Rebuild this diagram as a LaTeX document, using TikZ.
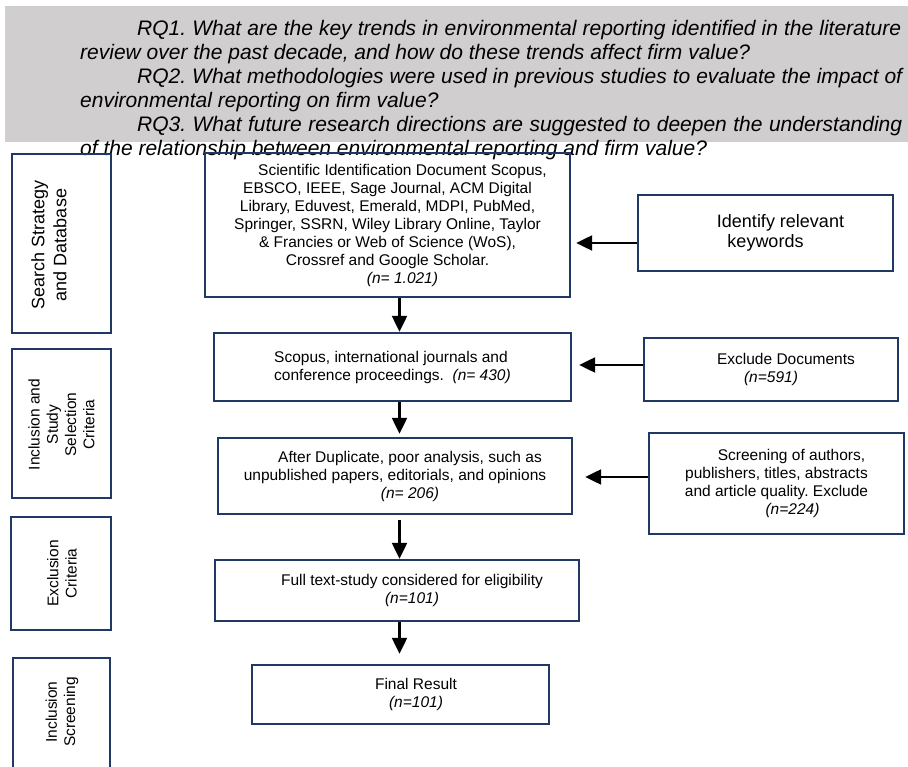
\documentclass[tikz,border=0pt]{standalone}
\usepackage{fontspec}
\setmainfont{Liberation Sans}
\usetikzlibrary{arrows.meta}
\definecolor{navy}{RGB}{32,56,100}
\definecolor{band}{RGB}{208,206,206}
\frenchspacing
\begin{document}
\begin{tikzpicture}[x=1pt,y=-1pt,
  rq/.style={anchor=base west, inner sep=0pt, font=\fontsize{21}{24}\selectfont\itshape},
  box/.style={draw=navy, line width=2.4pt, inner sep=0pt, align=center, font=\fontsize{15.5}{18}\selectfont},
  bigbox/.style={box, font=\fontsize{18}{20.5}\selectfont},
  frame/.style={draw=navy, line width=2.4pt},
  sidetext/.style={rotate=90, inner sep=0pt, align=center, font=\fontsize{15.5}{18.3}\selectfont},
  arr/.style={draw=black, line width=2.3pt, -{Triangle[length=16pt,width=15pt]}}]
\useasboundingbox (0,0) rectangle (908,767);
\fill[band] (5,6) rectangle (908,142);
% research questions
\node[rq] (rq1) at (137,36) {\makebox[764pt][s]{RQ1. What are the key trends in environmental reporting identified in the literature}};
\node[rq] (rq2) at (80,60) {review over the past decade, and how do these trends affect firm value?};
\node[rq] (rq3) at (137,84) {\makebox[765pt][s]{RQ2. What methodologies were used in previous studies to evaluate the impact of}};
\node[rq] (rq4) at (80,108) {environmental reporting on firm value?};
\node[rq] (rq5) at (137,132) {\makebox[765pt][s]{RQ3. What future research directions are suggested to deepen the understanding}};
\node[rq] (rq6) at (80,156) {of the relationship between environmental reporting and firm value?};
% side frames
\node[frame, minimum width=99pt, minimum height=179pt] (L1) at (61.5,243.5) {};
\node[frame, minimum width=99pt, minimum height=149pt] (L2) at (61.5,423.5) {};
\node[frame, minimum width=100pt, minimum height=113pt] (L3) at (61,573.5) {};
\coordinate (L4a) at (13,767);
\coordinate (L4b) at (110,767);
\draw[frame] (L4a) -- (13,658) -- (110,658) -- (L4b);
\node[sidetext, font=\fontsize{18}{22}\selectfont] (L1t) at (49,245) {Search Strategy\\and Database};
\node[sidetext] (L2t) at (61.5,424.5) {Inclusion and\\Study\\Selection\\Criteria};
\node[sidetext] (L3t) at (62,573.5) {Exclusion\\Criteria};
\node[sidetext] (L4t) at (62,712) {Inclusion\\Screening};
% main column
\node[box, minimum width=365pt, minimum height=144pt] (main) at (387.5,225)
  {\hspace*{30pt}Scientific Identification Document Scopus,\\
   EBSCO, IEEE, Sage Journal, ACM Digital\\
   Library, Eduvest, Emerald, MDPI, PubMed,\\
   Springer, SSRN, Wiley Library Online, Taylor\\
   \& Francies or Web of Science (WoS),\\
   Crossref and Google Scholar.\\
   \hspace*{30pt}\textit{(n= 1.021)}};
\node[box, align=left, minimum width=357pt, minimum height=68pt] (box2) at (392.5,367)
  {Scopus, international journals and\\conference proceedings.\ \ \textit{(n= 430)}};
\node[box, minimum width=354pt, minimum height=76pt] (box3) at (395,476)
  {\hspace*{30pt}After Duplicate, poor analysis, such as\\
   unpublished papers, editorials, and opinions\\
   \hspace*{30pt}\textit{(n= 206)}};
\node[box, minimum width=364pt, minimum height=61pt] (box4) at (397,590.5)
  {\hspace*{30pt}Full text-study considered for eligibility\\
   \hspace*{30pt}\textit{(n=101)}};
\node[box, minimum width=297pt, minimum height=59pt] (final) at (400.5,694.5)
  {\hspace*{31pt}Final Result\\\hspace*{31pt}\textit{(n=101)}};
% right column
\node[bigbox, minimum width=255pt, minimum height=76pt] (ident) at (765.5,233)
  {\hspace*{30pt}Identify relevant\\keywords};
\node[box, minimum width=254pt, minimum height=63pt] (excl) at (771,369.5)
  {\hspace*{30pt}Exclude Documents\\\textit{(n=591)}};
\node[box, minimum width=255pt, minimum height=101pt] (screen) at (776.5,483.5)
  {\hspace*{30pt}Screening of authors,\\
   publishers, titles, abstracts\\
   and article quality. Exclude\\
   \hspace*{32pt}\textit{(n=224)}};
% connectors
\coordinate (ax) at (399.5,0);
\draw[arr] (main.south -| ax) -- (box2.north -| ax);
\draw[arr, shorten >=3pt] (box2.south -| ax) -- (box3.north -| ax);
\draw[arr, shorten <=5pt] (box3.south -| ax) -- (box4.north -| ax);
\draw[arr, shorten >=10pt] (box4.south -| ax) -- (final.north -| ax);
\coordinate (ya) at (0,243);
\coordinate (yb) at (0,365);
\coordinate (yc) at (0,477);
\draw[arr, shorten >=5pt] (ident.west |- ya) -- (main.east |- ya);
\draw[arr, shorten >=7pt] (excl.west |- yb) -- (box2.east |- yb);
\draw[arr, shorten >=12pt] (screen.west |- yc) -- (box3.east |- yc);
\end{tikzpicture}
\end{document}
